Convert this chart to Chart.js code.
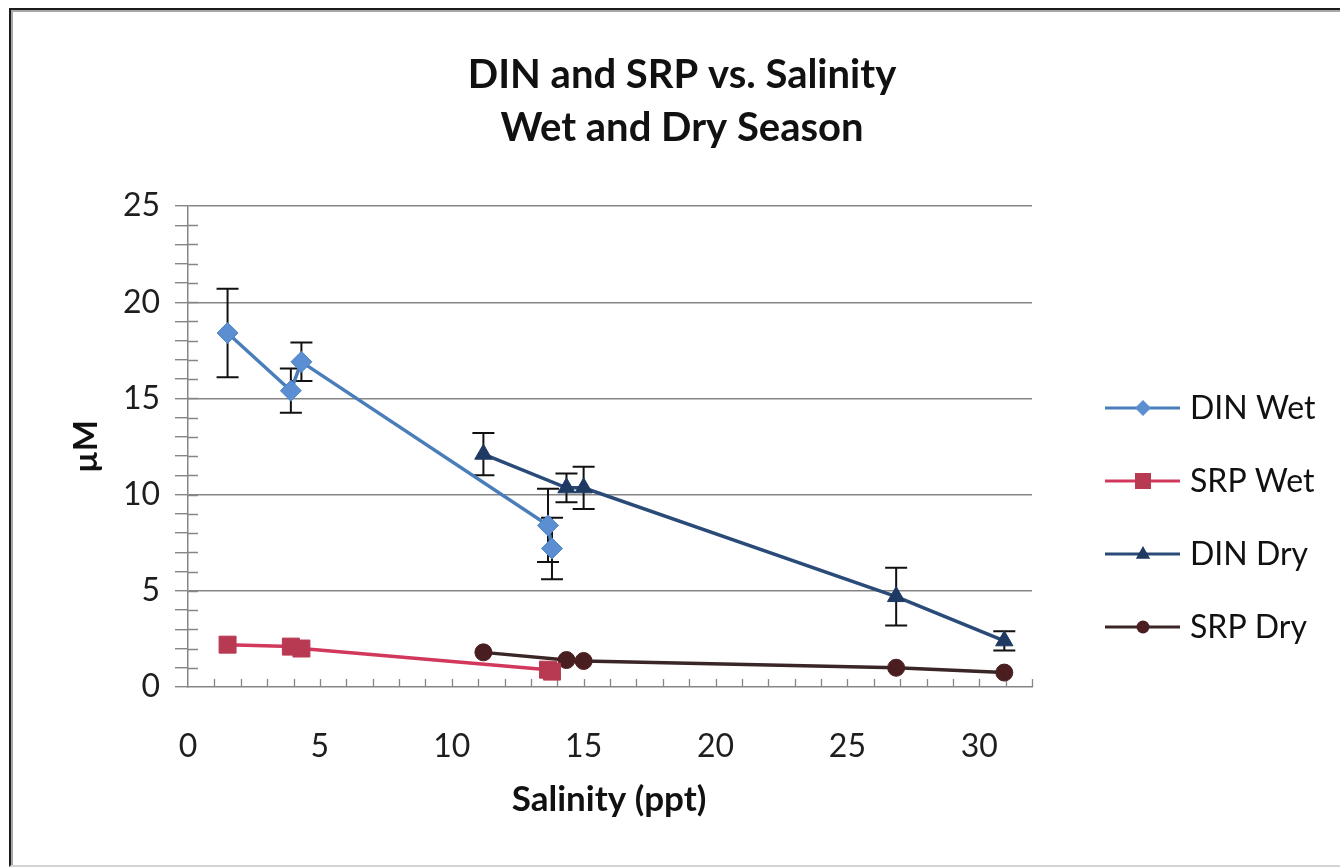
<!DOCTYPE html>
<html>
<head>
<meta charset="utf-8">
<title>DIN and SRP vs. Salinity</title>
<script src="https://cdn.jsdelivr.net/npm/chart.js@4.4.1/dist/chart.umd.min.js"></script>
<style>
  html, body { margin: 0; padding: 0; background: #fff; }
  #wrap { position: relative; width: 1340px; height: 868px; overflow: hidden; }
  #salChart { position: absolute; left: 0; top: 0; }
  #frame {
    position: absolute; left: 9px; top: 8px; width: 1340px; height: 855px;
    border-top: 2px solid #1b1b1b; border-left: 2px solid #1b1b1b;
    border-bottom: 2px solid #d4d4d4;
    box-shadow: inset 2px 2px 0 #a8a8a8; pointer-events: none;
  }
</style>
</head>
<body>
<div id="wrap">
  <canvas id="salChart" width="1340" height="868"></canvas>
  <div id="frame"></div>
</div>
<script>
// salinity (ppt) of the sampling stations
const salinityWet = [1.5, 3.9, 4.3, 13.65, 13.8];
const salinityDry = [11.2, 14.35, 15.0, 26.85, 30.95];

// concentrations (µM) with standard deviations
const dinWet = [18.4, 15.4, 16.9, 8.4, 7.2];
const dinWetErr = [2.3, 1.15, 1.0, 1.9, 1.6];
const srpWet = [2.2, 2.1, 2.0, 0.9, 0.8];
const dinDry = [12.1, 10.35, 10.35, 4.7, 2.4];
const dinDryErr = [1.1, 0.75, 1.1, 1.5, 0.5];
const srpDry = [1.8, 1.4, 1.35, 1.0, 0.75];

const seriesNames = ['DIN Wet', 'SRP Wet', 'DIN Dry', 'SRP Dry'];
const xTickLabels = [0, 5, 10, 15, 20, 25, 30];
const yTickLabels = [0, 5, 10, 15, 20, 25];

const FONT = 'Lato, "Open Sans", sans-serif';

const pts = (xs, ys, errs) => xs.map((x, i) => ({ x, y: ys[i], err: errs ? errs[i] : 0 }));

const datasets = [
  { label: seriesNames[0], data: pts(salinityWet, dinWet, dinWetErr),
    borderColor: '#4A7EBB', backgroundColor: '#5B8FD2', pointBorderColor: '#4F84C6',
    pointStyle: 'rectRot', pointRadius: 10.5 },
  { label: seriesNames[1], data: pts(salinityWet, srpWet),
    borderColor: '#D2385C', backgroundColor: '#B83A52', pointBorderColor: '#B83A52',
    pointStyle: 'rect', pointRadius: 12 },
  { label: seriesNames[2], data: pts(salinityDry, dinDry, dinDryErr),
    borderColor: '#2A4A78', backgroundColor: '#1F3A62', pointBorderColor: '#1F3A62',
    pointStyle: 'triangle', pointRadius: 10 },
  { label: seriesNames[3], data: pts(salinityDry, srpDry),
    borderColor: '#3A2626', backgroundColor: '#4A1E20', pointBorderColor: '#4A1E20',
    pointStyle: 'circle', pointRadius: 8.5 },
].map(d => Object.assign({ showLine: true, borderWidth: 3.5, pointBorderWidth: 1 }, d));

// vertical error bars with caps, drawn under the markers
const errorBars = {
  id: 'errorBars',
  beforeDatasetsDraw(chart) {
    const { ctx, scales: { x, y } } = chart;
    ctx.save();
    ctx.strokeStyle = '#111';
    ctx.lineWidth = 2;
    chart.data.datasets.forEach(ds => {
      ds.data.forEach(p => {
        if (!p.err) return;
        const px = x.getPixelForValue(p.x);
        const top = y.getPixelForValue(p.y + p.err);
        const bot = y.getPixelForValue(p.y - p.err);
        ctx.beginPath();
        ctx.moveTo(px, top); ctx.lineTo(px, bot);
        ctx.moveTo(px - 11, top); ctx.lineTo(px + 11, top);
        ctx.moveTo(px - 11, bot); ctx.lineTo(px + 11, bot);
        ctx.stroke();
      });
    });
    ctx.restore();
  }
};

// minor tick marks: through the y axis, inside above the x axis
const minorTicks = {
  id: 'minorTicks',
  beforeDatasetsDraw(chart) {
    const { ctx, scales: { x, y } } = chart;
    ctx.save();
    ctx.strokeStyle = '#868686';
    ctx.lineWidth = 1.3;
    ctx.beginPath();
    for (let v = 1; v < y.max; v++) {
      const py = Math.round(y.getPixelForValue(v)) + 0.5;
      ctx.moveTo(x.left, py); ctx.lineTo(x.left + 10, py);
    }
    for (let v = 1; v <= x.max; v++) {
      const px = Math.round(x.getPixelForValue(v)) + 0.5;
      ctx.moveTo(px, y.bottom); ctx.lineTo(px, y.bottom - 8);
    }
    ctx.stroke();
    ctx.restore();
  }
};

function drawMarker(ctx, style, cx, cy, r) {
  ctx.beginPath();
  if (style === 'rectRot') {
    ctx.moveTo(cx, cy - r); ctx.lineTo(cx + r, cy); ctx.lineTo(cx, cy + r); ctx.lineTo(cx - r, cy);
  } else if (style === 'rect') {
    ctx.rect(cx - r, cy - r, 2 * r, 2 * r);
  } else if (style === 'triangle') {
    ctx.moveTo(cx, cy - r); ctx.lineTo(cx + r * 0.9, cy + r * 0.6); ctx.lineTo(cx - r * 0.9, cy + r * 0.6);
  } else {
    ctx.arc(cx, cy, r, 0, Math.PI * 2);
  }
  ctx.closePath();
  ctx.fill();
}

// title, axis titles and the side legend
const labels = {
  id: 'labels',
  afterDraw(chart) {
    const { ctx, chartArea: a } = chart;
    ctx.save();
    ctx.fillStyle = '#111';
    ctx.textAlign = 'center';
    ctx.textBaseline = 'middle';
    ctx.font = `bold 40px ${FONT}`;
    ctx.fillText('DIN and SRP vs. Salinity', 682, 75);
    ctx.fillText('Wet and Dry Season', 682, 128);

    ctx.font = `bold 35px ${FONT}`;
    ctx.fillText('Salinity (ppt)', 609, 800);
    ctx.save();
    ctx.translate(86, (a.top + a.bottom) / 2);
    ctx.rotate(-Math.PI / 2);
    ctx.font = `bold 33px ${FONT}`;
    ctx.fillText('µM', 0, 0);
    ctx.restore();

    ctx.textAlign = 'left';
    ctx.font = `32px ${FONT}`;
    chart.data.datasets.forEach((ds, i) => {
      const ly = 408 + i * 73;
      ctx.strokeStyle = ds.borderColor;
      ctx.lineWidth = 3;
      ctx.beginPath();
      ctx.moveTo(1105, ly); ctx.lineTo(1180, ly);
      ctx.stroke();
      ctx.fillStyle = ds.backgroundColor;
      drawMarker(ctx, ds.pointStyle, 1143, ly, ds.pointStyle === 'circle' ? 6.5 : 8);
      ctx.fillStyle = '#111';
      ctx.fillText(ds.label, 1190, ly + 1);
    });
    ctx.restore();
  }
};

new Chart(document.getElementById('salChart'), {
  type: 'scatter',
  data: { datasets },
  options: {
    responsive: false,
    animation: false,
    devicePixelRatio: 1,
    layout: { padding: { top: 206, right: 308, left: 0, bottom: 0 } },
    plugins: { legend: { display: false }, tooltip: { enabled: false } },
    scales: {
      x: {
        type: 'linear', min: 0, max: 32,
        afterFit: s => { s.height = 181; },
        border: { color: '#868686', width: 1.5 },
        grid: { color: 'transparent', drawTicks: false },
        ticks: {
          stepSize: 1, autoSkip: false, maxRotation: 0, padding: 40,
          color: '#1e1e1e', font: { family: FONT, size: 32 },
          callback: v => xTickLabels.includes(v) ? String(v) : ''
        }
      },
      y: {
        type: 'linear', min: 0, max: 25,
        afterFit: s => { s.width = 188; },
        border: { color: '#868686', width: 1.5 },
        grid: {
          color: c => c.tick && yTickLabels.includes(c.tick.value) && c.tick.value > 0 ? '#858585' : 'transparent',
          tickColor: '#868686', tickLength: 13, lineWidth: 1.4
        },
        ticks: {
          stepSize: 1, autoSkip: false, padding: 15,
          color: '#1e1e1e', font: { family: FONT, size: 32 },
          callback: v => yTickLabels.includes(v) ? String(v) : ''
        }
      }
    }
  },
  plugins: [minorTicks, errorBars, labels]
});
</script>
</body>
</html>
